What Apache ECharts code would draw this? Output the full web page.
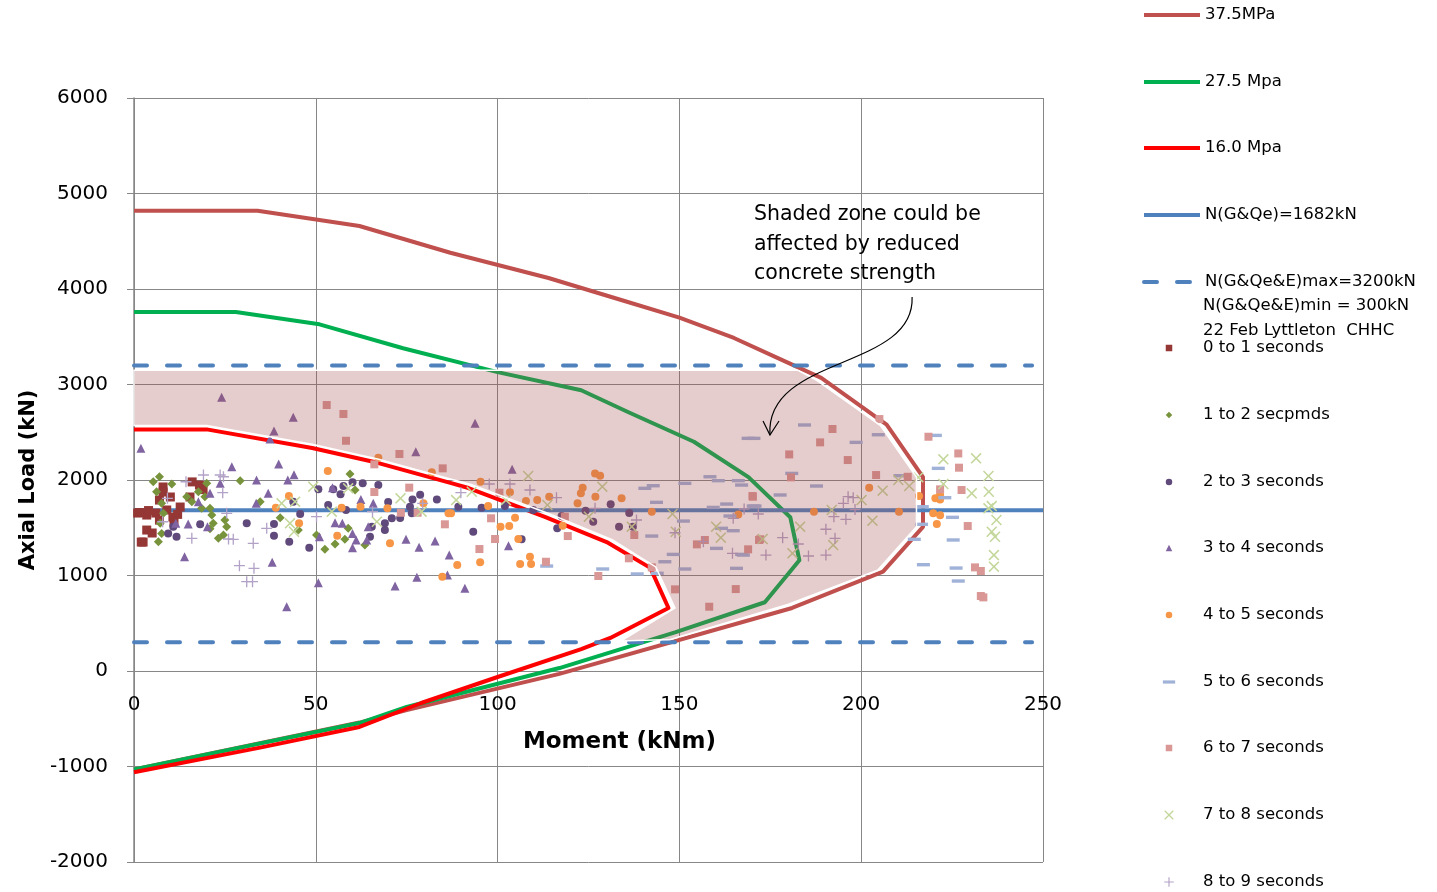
<!DOCTYPE html>
<html><head><meta charset="utf-8">
<script src="https://cdn.jsdelivr.net/npm/echarts@6/dist/echarts.min.js"></script>
<style>html,body{margin:0;padding:0;background:#fff}#c{width:1437px;height:892px}</style>
</head><body><div id="c"></div>
<script>
// ---- axis ticks ----
const xTicks = [0, 50, 100, 150, 200, 250];
const yTicks = [-2000, -1000, 0, 1000, 2000, 3000, 4000, 5000, 6000];

// ---- interaction curves [moment, axial] ----
const curve375 = [[0,4820],[34,4820],[62,4660],[87,4380],[114,4115],[134,3885],[150,3700],[165,3487],[178,3260],[189,3070],[207,2580],[217,2030],[217,1510],[206,1040],[181,660],[117,-30],[75,-410],[62,-540],[0,-1030]];
const curve275 = [[0,3760],[28,3760],[51,3630],[74,3380],[100,3130],[123,2940],[136,2710],[154,2400],[169,2030],[180.5,1610],[183,1160],[173.5,720],[149,408],[117,31],[75,-377],[62,-545],[0,-1030]];
const curve160 = [[0,2530],[20,2530],[49,2335],[67,2180],[87,1970],[92,1916],[113,1613],[130,1350],[142,1080],[147,660],[131,346],[123,230],[100,-63],[79,-335],[62,-586],[35,-800],[0,-1060]];
const lineNGQe = [[0,1682],[250,1682]];
const lineNmax = [[0,3200],[247,3200]];
const lineNmin = [[0,300],[247,300]];

// ---- shaded zone outline ----
const shadeX = [0,182.5,187.5,205.3,215.2,215.2,204.5,180,147.5,134,148.8,143.5,131.5,114,92.5,87,67,49,20,0];
const shadeY = [3150,3150,3050,2570,2030,1510,1055,700,330,315,660,1090,1375,1650,1955,2010,2220,2375,2570,2570];

// ---- 22 Feb Lyttleton CHHC points [moment, axial] ----
const s0to1 = [[1,1654],[3.5,1633],[6,1654],[9,1686],[10.7,1612],[7,1790],[12.7,1717],[8,1927],[18,1947],[15.4,1822],[8,1874],[10,1822],[7,1580],[3.5,1476],[2.5,1350],[5,1445],[1.5,1660],[4,1680],[12,1640],[16,1980],[19,1900],[2,1350],[11,1560]];
const s1to2 = [[5.3,1982],[7,2034],[10.4,1958],[6.2,1877],[7.6,1756],[8.1,1651],[7.2,1546],[7.6,1441],[6.7,1354],[14.5,1825],[15.9,1773],[17.7,1877],[18.6,1703],[20.9,1703],[21.4,1633],[21.8,1546],[20,1965],[19.5,1825],[20.9,1490],[23.2,1389],[25,1581],[25.5,1511],[24.6,1424],[29.2,1993],[34.7,1773],[40.2,1606],[45.2,1476],[50.2,1424],[52.5,1274],[55.3,1330],[58,1379],[58.9,1494],[59.4,2063],[60.8,1895],[63.5,1319]];
const s2to3 = [[9.4,1441],[11.7,1406],[10.8,1511],[18.2,1536],[31,1546],[38.5,1539],[38.5,1417],[42.7,1354],[48.2,1291],[50.7,1902],[53.4,1738],[54.8,1902],[57.6,1937],[56.8,1850],[58.3,1686],[60.1,1976],[62.9,1965],[67.2,1947],[65.4,1511],[64.9,1406],[69,1546],[69,1476],[69.9,1769],[70.9,1599],[73.2,1602],[75.9,1720],[76.6,1797],[76.4,1651],[78.7,1846],[83.3,1797],[45.7,1644],[43.8,1773],[89.2,1720],[95.6,1710],[102,1727],[109.8,1686],[117.6,1623],[116.4,1494],[93.3,1458],[106.6,1379],[124.2,1678],[126.3,1563],[131.1,1745],[133.4,1511],[136.2,1654],[137.2,1511]];
const s3to4 = [[24.1,2866],[43.8,2656],[38.5,2513],[37.4,2429],[1.9,2332],[26.9,2139],[39.8,2167],[44,2055],[33.7,2000],[42.3,2000],[36.9,1860],[33.6,1756],[20.9,1860],[23.7,1965],[17.7,1773],[11.5,1546],[14.9,1539],[20.2,1511],[13.9,1197],[38,1138],[42,673],[50.7,925],[54.6,1920],[55.3,1553],[57.3,1546],[51,1406],[60.1,1441],[60.1,1291],[61.1,1372],[62.4,1797],[65.8,1756],[64.4,1511],[64,1372],[74.8,1379],[78.4,1295],[82.8,1361],[71.8,890],[77.8,981],[77.5,2296],[93.8,2593],[104,2112],[86.7,1214],[103,1312],[86.2,1005],[91,866]];
const s4to5 = [[53.3,2094],[67.2,2233],[81.9,2080],[42.6,1832],[39,1710],[45.4,1546],[55.9,1417],[57.1,1710],[62.3,1720],[69.7,1703],[79.6,1756],[70.4,1337],[86.5,1651],[84.8,987],[95.3,1982],[103.4,1871],[97.4,1727],[87.2,1651],[107.8,1780],[110.9,1790],[114.2,1825],[104.8,1605],[100.8,1511],[103.2,1518],[105.7,1382],[108.9,1197],[109.2,1120],[106.2,1120],[95.2,1138],[88.9,1110],[117.9,1521],[122,1756],[122.9,1860],[123.4,1919],[126.8,2069],[128.2,2045],[126.9,1825],[134.1,1808],[142.4,1668],[166.2,1640],[202.2,1920],[187,1668],[210.4,1668],[215.9,1832],[220.4,1808],[221.7,1797],[219.8,1651],[221.7,1630],[220.8,1539],[221.7,1846]];
const s5to6 = [[158.4,2034],[160.7,1993],[168.9,2436],[140.5,1913],[142.8,1940],[151.5,1965],[143.7,1766],[159.3,1713],[163,1748],[166.2,1993],[167.1,1947],[163.9,1623],[170.3,1727],[142.4,1413],[151.1,1570],[161.6,1494],[164.8,1469],[160.2,1284],[148.3,1221],[146,1144],[151.5,1068],[165.7,1075],[167.1,1221],[128.9,1068],[138.4,1016],[143.9,1023],[113.5,1099],[184.4,2576],[170.5,2436],[198.6,2394],[204.7,2474],[220.4,2467],[221.2,2122],[180.9,2069],[187.7,1937],[177.7,1843],[170.8,1727],[210.7,2045],[216.8,1720],[216.6,1536],[214.6,1379],[223,1815],[225.1,1609],[225.3,1372],[217.1,1113],[226.1,1078],[226.7,942],[167.6,1214]];
const s6to7 = [[53,2785],[57.6,2691],[58.3,2411],[73,2272],[84.9,2122],[66.1,2164],[75.7,1920],[66.1,1874],[73.4,1657],[78,1657],[85.5,1536],[98.2,1599],[99.3,1382],[95,1277],[100.5,1867],[113.3,1144],[118.5,1616],[119.3,1413],[127.7,995],[136.1,1180],[137.6,1424],[142.4,1085],[148.8,855],[158.2,673],[165.5,858],[157,1372],[154.8,1326],[168.9,1274],[170.2,1825],[171.9,1372],[192.1,2534],[188.7,2394],[180.2,2268],[196.3,2209],[180.7,2028],[204.1,2052],[170.1,1832],[212.8,2034],[172.2,1379],[205,2638],[218.5,2453],[226.7,2278],[226.9,2129],[227.6,1895],[221.7,1902],[229.3,1518],[231.3,1085],[232.9,1047],[232.9,785],[233.6,771]];
const s7to8 = [[49.3,1930],[40.6,1756],[44.3,1773],[42.9,1546],[44,1458],[54.4,1668],[58.9,1913],[66.8,1563],[73.3,1808],[79.1,1668],[88.6,1790],[92.9,1877],[102.3,1790],[108.4,2042],[113.7,1738],[128.8,1930],[125.1,1616],[136.9,1511],[148.1,1644],[149,1458],[160.1,1511],[161.4,1396],[183.2,1511],[172.9,1382],[181.1,1232],[192.3,1319],[191.9,1686],[200.1,1790],[203.1,1574],[205.9,1888],[210.2,2000],[213.2,1937],[215.7,2028],[222.6,2217],[231.6,2227],[222.6,1958],[230.4,1860],[235,2042],[235.1,1877],[235.9,1727],[235,1703],[237.2,1581],[235.9,1458],[236.8,1406],[236.5,1214],[236.5,1092]];
const s8to9 = [[14.3,1982],[19.1,2052],[23.7,2052],[24.6,2034],[24.4,1867],[9.2,1808],[7.9,1563],[25.5,1651],[15.9,1389],[26,1382],[27.3,1379],[32.8,1337],[29,1103],[33,1075],[31,935],[32.6,935],[36.5,1494],[50.2,1616],[65.6,1668],[79.4,1756],[89.9,1867],[97.7,1958],[103.4,1958],[108.9,1895],[116.2,1815],[126.8,1703],[138.2,1581],[148.8,1448],[156.6,1354],[164.6,1232],[164.8,1599],[167.8,1696],[171.7,1644],[178.4,1396],[173.8,1214],[182.7,1330],[185.5,1204],[190.3,1214],[190.3,1484],[192.8,1389],[192.5,1616],[195.8,1588],[195.1,1756],[196.4,1825],[197.8,1815],[198.3,1690]];

// ---- names ----
const lineNames = ['37.5MPa', '27.5 Mpa', '16.0 Mpa', 'N(G&Qe)=1682kN', 'N(G&Qe&E)max=3200kN'];
const scatterNames = ['0 to 1 seconds','1 to 2 secpmds','2 to 3 seconds','3 to 4 seconds','4 to 5 seconds','5 to 6 seconds','6 to 7 seconds','7 to 8 seconds','8 to 9 seconds'];

const FONT = 'DejaVu Sans';
const SYM = {
  square: 'path://M0,0H10V10H0Z',
  diamond: 'path://M5,0L10,5L5,10L0,5Z',
  triangle: 'path://M5,0L10,10L0,10Z',
  dash: 'path://M0,0H10V2.6H0Z',
  cross: 'path://M1,0L5,4L9,0L10,1L6,5L10,9L9,10L5,6L1,10L0,9L4,5L0,1Z',
  plus: 'path://M4.4,0H5.6V4.4H10V5.6H5.6V10H4.4V5.6H0V4.4H4.4Z'
};

function lineSeries(name, data, color, type) {
  return { type: 'line', name, data, showSymbol: false, symbol: 'none', silent: true,
    lineStyle: { color, width: 4, type: type || 'solid', cap: type ? 'round' : 'butt', join: 'round' },
    itemStyle: { color }, z: 2, animation: false };
}
function scatterSeries(name, data, color, symbol, size) {
  return { type: 'scatter', name, data, symbol, symbolSize: size, silent: true,
    itemStyle: { color, opacity: 1 }, z: 3, animation: false };
}

const series = [
  lineSeries(lineNames[0], curve375, '#C0504D'),
  lineSeries(lineNames[1], curve275, '#00B050'),
  lineSeries(lineNames[2], curve160, '#FF0000'),
  lineSeries(lineNames[3], lineNGQe, '#4F81BD'),
  lineSeries(lineNames[4], lineNmax, '#4F81BD', [13, 20]),
  lineSeries(lineNames[4], lineNmin, '#4F81BD', [13, 20]),
  scatterSeries(scatterNames[0], s0to1, '#953735', SYM.square, 9),
  scatterSeries(scatterNames[1], s1to2, '#77933C', SYM.diamond, 9),
  scatterSeries(scatterNames[2], s2to3, '#604A7B', 'circle', 8),
  scatterSeries(scatterNames[3], s3to4, '#8064A2', SYM.triangle, 9),
  scatterSeries(scatterNames[4], s4to5, '#F79646', 'circle', 8),
  scatterSeries(scatterNames[5], s5to6, '#A0B2D8', SYM.dash, [13, 3.4]),
  scatterSeries(scatterNames[6], s6to7, '#D99795', SYM.square, 8),
  scatterSeries(scatterNames[7], s7to8, '#C4D79B', SYM.cross, 11),
  scatterSeries(scatterNames[8], s8to9, '#B3A2C7', SYM.plus, 11),
  {
    type: 'custom', name: 'shade', silent: true, z: 4, animation: false,
    data: [[0, 0]],
    renderItem: function (params, api) {
      const pts = shadeX.map((x, i) => api.coord([x, shadeY[i]]));
      return { type: 'polygon', shape: { points: pts },
        style: { fill: 'rgba(164,76,76,0.28)', stroke: '#ffffff', lineWidth: 1.5 } };
    }
  }
];

// legends: one component per entry, placed at the reference rows
// [name, centre y, icon height, icon drawn width]
const legendRows = [
  [lineNames[0], 15, 'line'], [lineNames[1], 82, 'line'], [lineNames[2], 148, 'line'],
  [lineNames[3], 215, 'line'], [lineNames[4], 282, 'line'],
  [scatterNames[0], 348, 6.5, 6.5], [scatterNames[1], 415, 6.5, 6.5], [scatterNames[2], 482, 6.5, 6.5],
  [scatterNames[3], 548, 6.5, 6.5], [scatterNames[4], 615, 6.5, 6.5], [scatterNames[5], 682, 3.2, 12.3],
  [scatterNames[6], 748, 6.5, 6.5], [scatterNames[7], 815, 9.5, 9.5], [scatterNames[8], 882, 9.5, 9.5]
];
const legends = legendRows.map(([name, cy, kind, w]) => {
  const h = 17;
  if (kind === 'line') {
    return {
      data: [name], orient: 'vertical', padding: 0, selectedMode: false,
      left: 1142, top: cy - h / 2, itemWidth: 56, itemHeight: 10,
      itemStyle: { opacity: 0 }, lineStyle: { width: 4 },
      textStyle: { fontFamily: FONT, fontSize: 16.5, color: '#000' }
    };
  }
  return {
    data: [name], orient: 'vertical', padding: 0, selectedMode: false,
    left: 1169 - w / 2, top: cy - h / 2, itemWidth: 58, itemHeight: kind,
    textStyle: { fontFamily: FONT, fontSize: 16.5, color: '#000' }
  };
});

const gridColor = '#878787';
const option = {
  backgroundColor: '#ffffff',
  animation: false,
  grid: { left: 134, right: 394, top: 98, bottom: 30, containLabel: false, outerBoundsMode: 'none' },
  legend: legends,
  xAxis: {
    type: 'value', min: xTicks[0], max: xTicks[xTicks.length - 1], interval: 50,
    name: 'Moment (kNm)', nameLocation: 'middle', nameGap: 60,
    nameTextStyle: { fontFamily: FONT, fontSize: 23, fontWeight: 'bold', color: '#000', padding: [0, 0, 0, 62] },
    axisLine: { show: true, onZero: false, lineStyle: { color: gridColor, width: 1 } },
    axisTick: { show: false },
    axisLabel: { margin: 24, fontFamily: FONT, fontSize: 20, color: '#000', formatter: v => String(v) },
    splitLine: { show: true, lineStyle: { color: gridColor, width: 1 } }
  },
  yAxis: {
    type: 'value', min: yTicks[0], max: yTicks[yTicks.length - 1], interval: 1000,
    name: 'Axial Load (kN)', nameLocation: 'middle', nameGap: 92,
    nameTextStyle: { fontFamily: FONT, fontSize: 21, fontWeight: 'bold', color: '#000' },
    axisLine: { show: true, onZero: false, lineStyle: { color: gridColor, width: 1.5 } },
    axisTick: { show: true, inside: false, length: 7, lineStyle: { color: gridColor } },
    axisLabel: { margin: 26, fontFamily: FONT, fontSize: 20, color: '#000', formatter: v => String(v) },
    splitLine: { show: true, lineStyle: { color: gridColor, width: 1 } }
  },
  series
};

const chart = echarts.init(document.getElementById('c'), null, { renderer: 'canvas' });
chart.setOption(option);

function px(p) { return chart.convertToPixel({ gridIndex: 0 }, p); }
// move the horizontal axis (labels + title) onto the y = 0 line
const yZero = px([0, 0])[1], yBottom = px([0, yTicks[0]])[1];
chart.setOption({ xAxis: { offset: yZero - yBottom } });

const tTop = px([170.5, 4931]);
const a0 = px([214, 3916]), c1 = px([214.8, 3151]), c2 = px([173.5, 3309]), a3 = px([174.9, 2471]);
const hl = px([173, 2618]), hr = px([177.4, 2618]);
chart.setOption({
  graphic: [
    { type: 'text', silent: true, z: 100, x: tTop[0], y: tTop[1],
      style: { text: 'Shaded zone could be\naffected by reduced\nconcrete strength', fontFamily: FONT, fontSize: 20.5,
        lineHeight: 29.5, fill: '#000', align: 'left', verticalAlign: 'top' } },
    { type: 'bezierCurve', silent: true, z: 100,
      shape: { x1: a0[0], y1: a0[1], cpx1: c1[0], cpy1: c1[1], cpx2: c2[0], cpy2: c2[1], x2: a3[0], y2: a3[1] },
      style: { stroke: '#000', lineWidth: 1.2, fill: null } },
    { type: 'polyline', silent: true, z: 100,
      shape: { points: [hl, a3, hr] }, style: { stroke: '#000', lineWidth: 1.2, fill: null } },
    { type: 'text', silent: true, z: 100, x: 1203, y: 306,
      style: { text: 'N(G&Qe&E)min = 300kN', fontFamily: FONT, fontSize: 16.5, fill: '#000', verticalAlign: 'middle' } },
    { type: 'text', silent: true, z: 100, x: 1203, y: 331,
      style: { text: '22 Feb Lyttleton  CHHC', fontFamily: FONT, fontSize: 16.5, fill: '#000', verticalAlign: 'middle' } }
  ]
});
</script>
</body></html>
